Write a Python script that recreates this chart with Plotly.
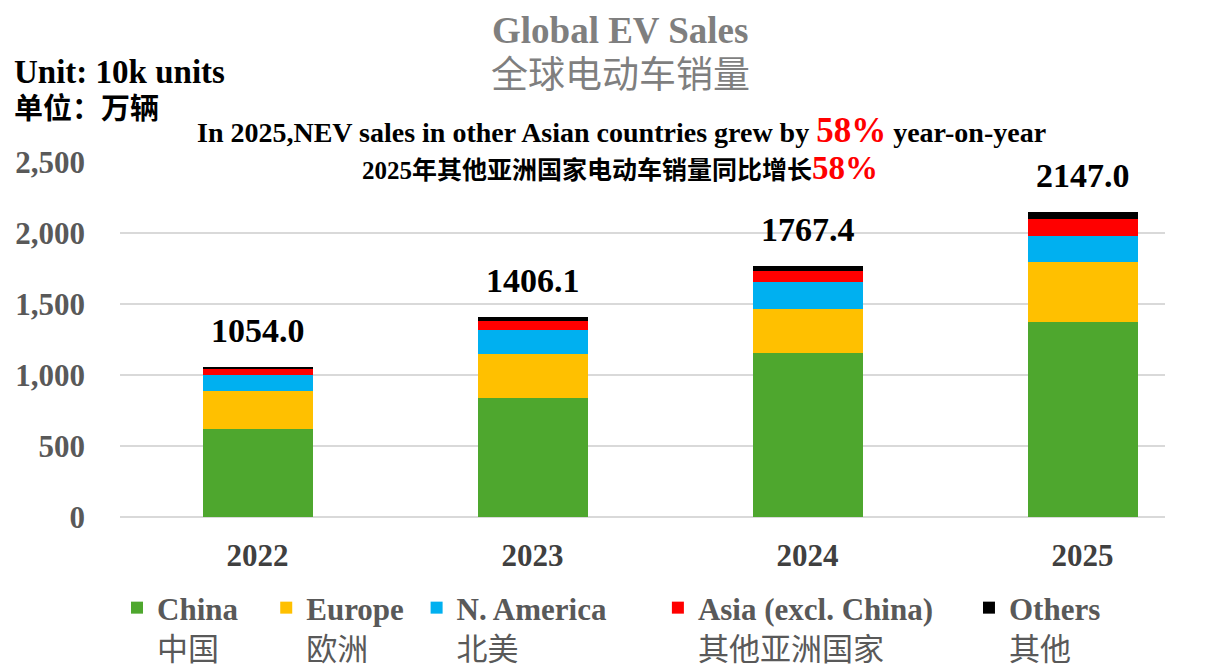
import plotly.graph_objects as go

years = ["2022", "2023", "2024", "2025"]
china = [621, 837, 1154, 1373]
europe = [263, 308, 313, 425]
n_america = [113, 172, 190, 179]
asia_ex_china = [50, 66, 75, 120]
others = [7, 23.1, 35.4, 50]

series_en = ["China", "Europe", "N. America", "Asia (excl. China)", "Others"]
series_zh = ["中国", "欧洲", "北美", "其他亚洲国家", "其他"]
series_pad = [3, 1, 6, 4, 0]
series_values = [china, europe, n_america, asia_ex_china, others]
series_colors = ["#4ea72e", "#ffc000", "#00b0f0", "#ff0000", "#000000"]

totals = [sum(v) for v in zip(*series_values)]

SERIF = "Liberation Serif, Noto Sans CJK SC, serif"

fig = go.Figure()
for en, zh, pad, vals, col in zip(series_en, series_zh, series_pad, series_values, series_colors):
    fig.add_trace(go.Bar(x=years, y=vals, name=f"<b>{en}</b>" + "&nbsp;" * pad + f"<br>{zh}",
                         marker=dict(color=col, line=dict(width=0)), width=0.4))

for i, tot in enumerate(totals):
    fig.add_annotation(x=i, y=tot, text=f"<b>{tot:.1f}</b>", showarrow=False,
                       yanchor="bottom", yshift=16,
                       font=dict(family=SERIF, size=34, color="#000000"))

# page offset of the figure (body margin) is 8px
W, H = 1202, 663
L, R, T, B = 112, 45, 154, 154
PL, PT, PB, PW, PH = 120, 162, 517, 1045, 355

def px(x):
    return (x - PL) / PW

def py(y):
    return (PB - y) / PH

fig.add_annotation(xref="paper", yref="paper", x=px(620), y=py(30), text="<b>Global EV Sales</b>",
                   showarrow=False, xanchor="center", yanchor="middle",
                   font=dict(family=SERIF, size=37, color="#7f7f7f"))
fig.add_annotation(xref="paper", yref="paper", x=px(620), y=py(75), text="全球电动车销量",
                   showarrow=False, xanchor="center", yanchor="middle",
                   font=dict(family=SERIF, size=37, color="#7f7f7f"))
fig.add_annotation(xref="paper", yref="paper", x=px(12), y=py(72), text="<b>Unit: 10k units</b>",
                   showarrow=False, xanchor="left", yanchor="middle",
                   font=dict(family=SERIF, size=33, color="#000000"))
fig.add_annotation(xref="paper", yref="paper", x=px(12), y=py(109), text="<b>单位：万辆</b>",
                   showarrow=False, xanchor="left", yanchor="middle",
                   font=dict(family=SERIF, size=29, color="#000000"))
fig.add_annotation(xref="paper", yref="paper", x=px(621), y=py(131),
                   text="<b>In 2025,NEV sales in other Asian countries grew by "
                        "<span style='color:#ff0000;font-size:35px'>58%</span> year-on-year</b>",
                   showarrow=False, xanchor="center", yanchor="middle",
                   font=dict(family=SERIF, size=28, color="#000000"))
fig.add_annotation(xref="paper", yref="paper", x=px(620), y=py(168),
                   text="<b>2025年其他亚洲国家电动车销量同比增长"
                        "<span style='color:#ff0000;font-size:33px'>58%</span></b>",
                   showarrow=False, xanchor="center", yanchor="middle",
                   font=dict(family=SERIF, size=25, color="#000000"))

fig.update_layout(
    width=W, height=H, barmode="stack",
    margin=dict(l=L, r=R, t=T, b=B, autoexpand=False),
    plot_bgcolor="white", paper_bgcolor="white",
    xaxis=dict(type="category", range=[-0.5, 3.3], showgrid=False, zeroline=False, showline=False,
               ticks="", ticklabelstandoff=17,
               tickfont=dict(family=SERIF, size=31, color="#404040"),
               tickprefix="<b>", ticksuffix="</b>"),
    yaxis=dict(range=[0, 2500], dtick=500, tickformat=",d", showgrid=True,
               gridcolor="#d9d9d9", gridwidth=2, zeroline=True, zerolinecolor="#d9d9d9",
               zerolinewidth=2, showline=False, ticks="", ticklabelstandoff=34,
               tickfont=dict(family=SERIF, size=31, color="#595959"),
               tickprefix="<b>", ticksuffix="</b>"),
    legend=dict(orientation="h", x=px(117), y=py(581), xanchor="left", yanchor="top",
                valign="top", traceorder="normal",
                font=dict(family=SERIF, size=31, color="#595959"),
                itemwidth=30, bgcolor="rgba(0,0,0,0)"),
    showlegend=True,
)

fig.write_html("out.html")
